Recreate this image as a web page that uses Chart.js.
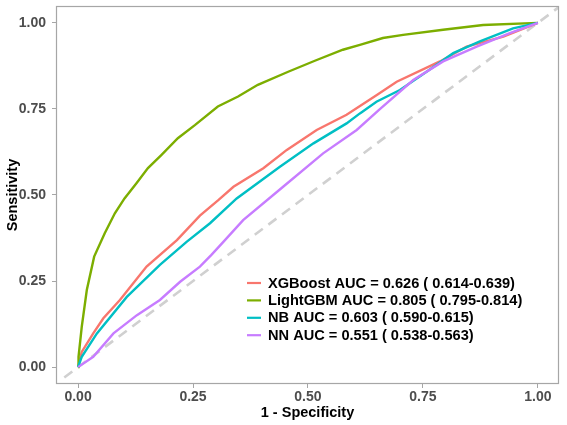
<!DOCTYPE html>
<html>
<head>
<meta charset="utf-8">
<script src="https://cdn.jsdelivr.net/npm/chart.js@4.4.1/dist/chart.umd.min.js"></script>
<style>
  html, body { margin: 0; padding: 0; background: #ffffff; }
  #wrap { width: 567px; height: 425px; position: relative; }
</style>
</head>
<body>
<div id="wrap"><canvas id="c" width="567" height="425"></canvas></div>
<script>
// ---- data ----
const seriesNames = [
  "XGBoost AUC = 0.626 ( 0.614-0.639)",
  "LightGBM AUC = 0.805 ( 0.795-0.814)",
  "NB AUC = 0.603 ( 0.590-0.615)",
  "NN AUC = 0.551 ( 0.538-0.563)"
];
const seriesColors = ["#F8766D", "#7CAE00", "#00BFC4", "#C77CFF"];

const xgbFpr = [0, 0.008, 0.033, 0.055, 0.091, 0.149, 0.215, 0.265, 0.305, 0.338, 0.403, 0.454, 0.519, 0.584, 0.649, 0.693, 0.787, 0.845, 0.925, 1];
const xgbTpr = [0, 0.044, 0.098, 0.142, 0.195, 0.292, 0.369, 0.440, 0.485, 0.524, 0.578, 0.631, 0.689, 0.733, 0.790, 0.829, 0.888, 0.931, 0.960, 1];

const lgbFpr = [0, 0.001, 0.008, 0.019, 0.035, 0.058, 0.080, 0.101, 0.127, 0.152, 0.181, 0.217, 0.254, 0.304, 0.348, 0.391, 0.457, 0.515, 0.576, 0.613, 0.663, 0.707, 0.794, 0.881, 1];
const lgbTpr = [0, 0.030, 0.117, 0.224, 0.321, 0.389, 0.447, 0.490, 0.534, 0.578, 0.616, 0.665, 0.703, 0.757, 0.786, 0.820, 0.858, 0.890, 0.922, 0.936, 0.956, 0.965, 0.980, 0.994, 1];

const nbFpr = [0, 0.008, 0.041, 0.106, 0.178, 0.236, 0.287, 0.345, 0.439, 0.512, 0.584, 0.613, 0.649, 0.700, 0.758, 0.816, 0.874, 0.946, 1];
const nbTpr = [0, 0.030, 0.098, 0.204, 0.297, 0.364, 0.418, 0.490, 0.582, 0.650, 0.708, 0.737, 0.771, 0.805, 0.858, 0.912, 0.946, 0.984, 1];

const nnFpr = [0, 0.033, 0.077, 0.128, 0.178, 0.222, 0.265, 0.290, 0.316, 0.359, 0.446, 0.533, 0.606, 0.657, 0.729, 0.794, 0.867, 0.939, 1];
const nnTpr = [0, 0.030, 0.098, 0.151, 0.195, 0.248, 0.292, 0.326, 0.364, 0.427, 0.524, 0.621, 0.689, 0.750, 0.834, 0.888, 0.931, 0.970, 1];

const diagX = [-0.03, 1.045];
const diagY = [-0.03, 1.045];

const tickValues = [0, 0.25, 0.5, 0.75, 1];
const xTitle = "1 - Specificity";
const yTitle = "Sensitivity";

// ---- build datasets ----
function pts(xs, ys) { return xs.map((x, i) => ({ x: x, y: ys[i] })); }
const curves = [[xgbFpr, xgbTpr], [lgbFpr, lgbTpr], [nbFpr, nbTpr], [nnFpr, nnTpr]];

const datasets = curves.map((c, i) => ({
  label: seriesNames[i],
  data: pts(c[0], c[1]),
  borderColor: seriesColors[i],
  backgroundColor: seriesColors[i],
  borderWidth: 2.4,
  pointRadius: 0,
  tension: 0,
  fill: false,
  showLine: true,
  order: 4 - i
}));
datasets.push({
  label: "diag",
  data: pts(diagX, diagY),
  borderColor: "#D0D0D0",
  borderWidth: 2.6,
  borderDash: [10, 7],
  pointRadius: 0,
  showLine: true,
  fill: false,
  order: 10
});

const GRAY = "#4D4D4D";
const FONT = "'Liberation Sans', Arial, sans-serif";

const panelBorder = {
  id: "panelBorder",
  afterDraw(chart) {
    const a = chart.chartArea, ctx = chart.ctx;
    ctx.save();
    ctx.strokeStyle = "#A6A6A6";
    ctx.lineWidth = 1.2;
    ctx.strokeRect(a.left + 0.5, a.top + 0.5, a.right - a.left - 1, a.bottom - a.top - 1);
    ctx.restore();
  }
};

const insideLegend = {
  id: "insideLegend",
  afterDraw(chart) {
    const a = chart.chartArea, ctx = chart.ctx;
    const x0 = a.left + 191;
    const y0 = a.top + 277;
    const step = 17.4;
    ctx.save();
    ctx.font = "bold 14.6px " + FONT;
    ctx.textBaseline = "middle";
    chart.data.datasets.forEach((ds, i) => {
      if (ds.label === "diag") return;
      const y = y0 + i * step;
      ctx.strokeStyle = ds.borderColor;
      ctx.lineWidth = 2.2;
      ctx.beginPath();
      ctx.moveTo(x0, y);
      ctx.lineTo(x0 + 14, y);
      ctx.stroke();
      ctx.fillStyle = "#000000";
      ctx.fillText(ds.label, x0 + 21, y + 0.5);
    });
    ctx.restore();
  }
};

new Chart(document.getElementById("c"), {
  type: "scatter",
  data: { datasets: datasets },
  options: {
    responsive: false,
    animation: false,
    devicePixelRatio: 1,
    layout: { padding: { top: 6, right: 8, bottom: 0, left: 0 } },
    plugins: { legend: { display: false }, tooltip: { enabled: false } },
    scales: {
      x: {
        type: "linear",
        min: -0.048, max: 1.046,
        afterBuildTicks: s => { s.ticks = tickValues.map(v => ({ value: v })); },
        afterFit: s => { s.height = 41; s.paddingLeft = 0; s.paddingRight = 0; },
        ticks: {
          callback: v => Number(v).toFixed(2),
          color: GRAY,
          font: { family: FONT, size: 14, weight: "bold" },
          padding: 1,
          maxRotation: 0
        },
        grid: { display: true, drawOnChartArea: false, drawTicks: true, tickLength: 4, color: "#A6A6A6", lineWidth: 1 },
        border: { display: false },
        title: { display: true, text: xTitle, color: "#000000", font: { family: FONT, size: 14.5, weight: "bold" }, padding: { top: 0, bottom: 3 } }
      },
      y: {
        type: "linear",
        min: -0.049, max: 1.049,
        afterBuildTicks: s => { s.ticks = tickValues.map(v => ({ value: v })); },
        afterFit: s => { s.width = 56; s.paddingTop = 0; s.paddingBottom = 0; },
        ticks: {
          callback: v => Number(v).toFixed(2),
          color: GRAY,
          font: { family: FONT, size: 14, weight: "bold" },
          padding: 6
        },
        grid: { display: true, drawOnChartArea: false, drawTicks: true, tickLength: 4, color: "#A6A6A6", lineWidth: 1 },
        border: { display: false },
        title: { display: true, text: yTitle, color: "#000000", font: { family: FONT, size: 14.5, weight: "bold" }, padding: { top: 4, bottom: 0 } }
      }
    }
  },
  plugins: [panelBorder, insideLegend]
});
</script>
</body>
</html>
